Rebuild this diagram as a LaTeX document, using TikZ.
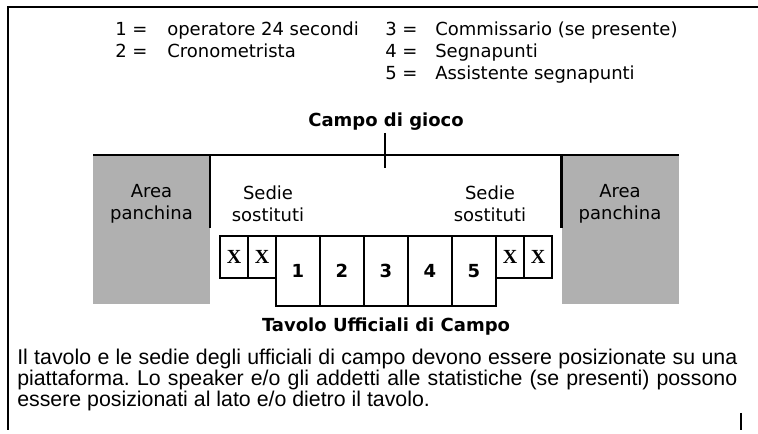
\documentclass[tikz,border=0pt]{standalone}
\usepackage{fontspec}
\setmainfont{DejaVu Sans}
\newfontfamily\parafont{Liberation Sans}
\newfontfamily\xfont{Liberation Serif}
\usetikzlibrary{positioning}
\definecolor{grigio}{HTML}{B0B0B0}

\begin{document}
\begin{tikzpicture}[x=0.75pt, y=-0.75pt,
legend/.style={anchor=base west, inner sep=0pt, font=\fontsize{13.5}{16}\selectfont},
titolo/.style={inner sep=0pt, font=\bfseries\fontsize{13.5}{16}\selectfont},
scritta/.style={inner sep=0pt, align=center, font=\fontsize{13.5}{16.5}\selectfont},
panchina/.style={fill=grigio, minimum width=87.75pt, minimum height=111.75pt, inner sep=0pt, outer sep=0pt},
posto/.style={draw, line width=1.8pt, minimum width=33pt, minimum height=52.5pt, inner sep=0pt, outer sep=0pt, font=\bfseries\fontsize{13.5}{16}\selectfont},
sedia/.style={draw, line width=1.8pt, minimum width=21pt, minimum height=31.5pt, inner sep=0pt, outer sep=0pt, font=\xfont\bfseries\fontsize{15}{16}\selectfont},
testo/.style={anchor=north west, inner sep=0pt, text width=540pt, align=justify, font=\parafont\frenchspacing\fontsize{16}{15.75}\selectfont}]
\useasboundingbox (0,0) rectangle (758,434);
\draw[line width=1.3pt] (758,7) -- (8,7) -- (8,430);
\draw[line width=1.3pt] (741,413) -- (741,430);

\node[legend] (n1) at (115,36) {1 =};
\node[legend] (v1) at (167,36) {operatore 24 secondi};
\node[legend] (n2) at (115,58) {2 =};
\node[legend] (v2) at (167,58) {Cronometrista};
\node[legend] (n3) at (385,36) {3 =};
\node[legend] (v3) at (435,36) {Commissario (se presente)};
\node[legend] (n4) at (385,58) {4 =};
\node[legend] (v4) at (435,58) {Segnapunti};
\node[legend] (n5) at (385,80) {5 =};
\node[legend] (v5) at (435,80) {Assistente segnapunti};

\node[titolo] (campo) at (386,122) {Campo di gioco};

\node[panchina] (sx) at (151.5,229.5) {};
\node[panchina] (dx) at (620,229.5) {};
\draw[line width=2.2pt] (sx.north west) -- (dx.north east);
\draw[line width=1.8pt] (sx.north east) -- ++(0,73);
\draw[line width=1.8pt] (dx.north west) -- ++(0,73);
\coordinate (centro) at (385,155);
\draw[line width=1.5pt] (centro) ++(0,-22) -- ++(0,35);

\node[scritta] (lsx) at (151.5,204) {Area\\panchina};
\node[scritta] (ldx) at (620,204) {Area\\panchina};
\node[scritta] (ssx) at (268,204) {Sedie\\sostituti};
\node[scritta] (sdx) at (490,204) {Sedie\\sostituti};

\node[posto] (p1) at (298,271) {1};
\node[posto, right=0pt of p1] (p2) {2};
\node[posto, right=0pt of p2] (p3) {3};
\node[posto, right=0pt of p3] (p4) {4};
\node[posto, right=0pt of p4] (p5) {5};
\node[sedia, anchor=north east] (x2) at (p1.north west) {X};
\node[sedia, left=0pt of x2] (x1) {X};
\node[sedia, anchor=north west] (x3) at (p5.north east) {X};
\node[sedia, right=0pt of x3] (x4) {X};

\node[titolo, below=9pt of p3] (tavolo) {Tavolo Ufficiali di Campo};

\node[testo] (nota) at (17,349) {Il tavolo e le sedie degli ufficiali di campo devono essere posizionate su una piattaforma. Lo speaker e/o gli addetti alle statistiche (se presenti) possono essere posizionati al lato e/o dietro il tavolo.};
\end{tikzpicture}
\end{document}
